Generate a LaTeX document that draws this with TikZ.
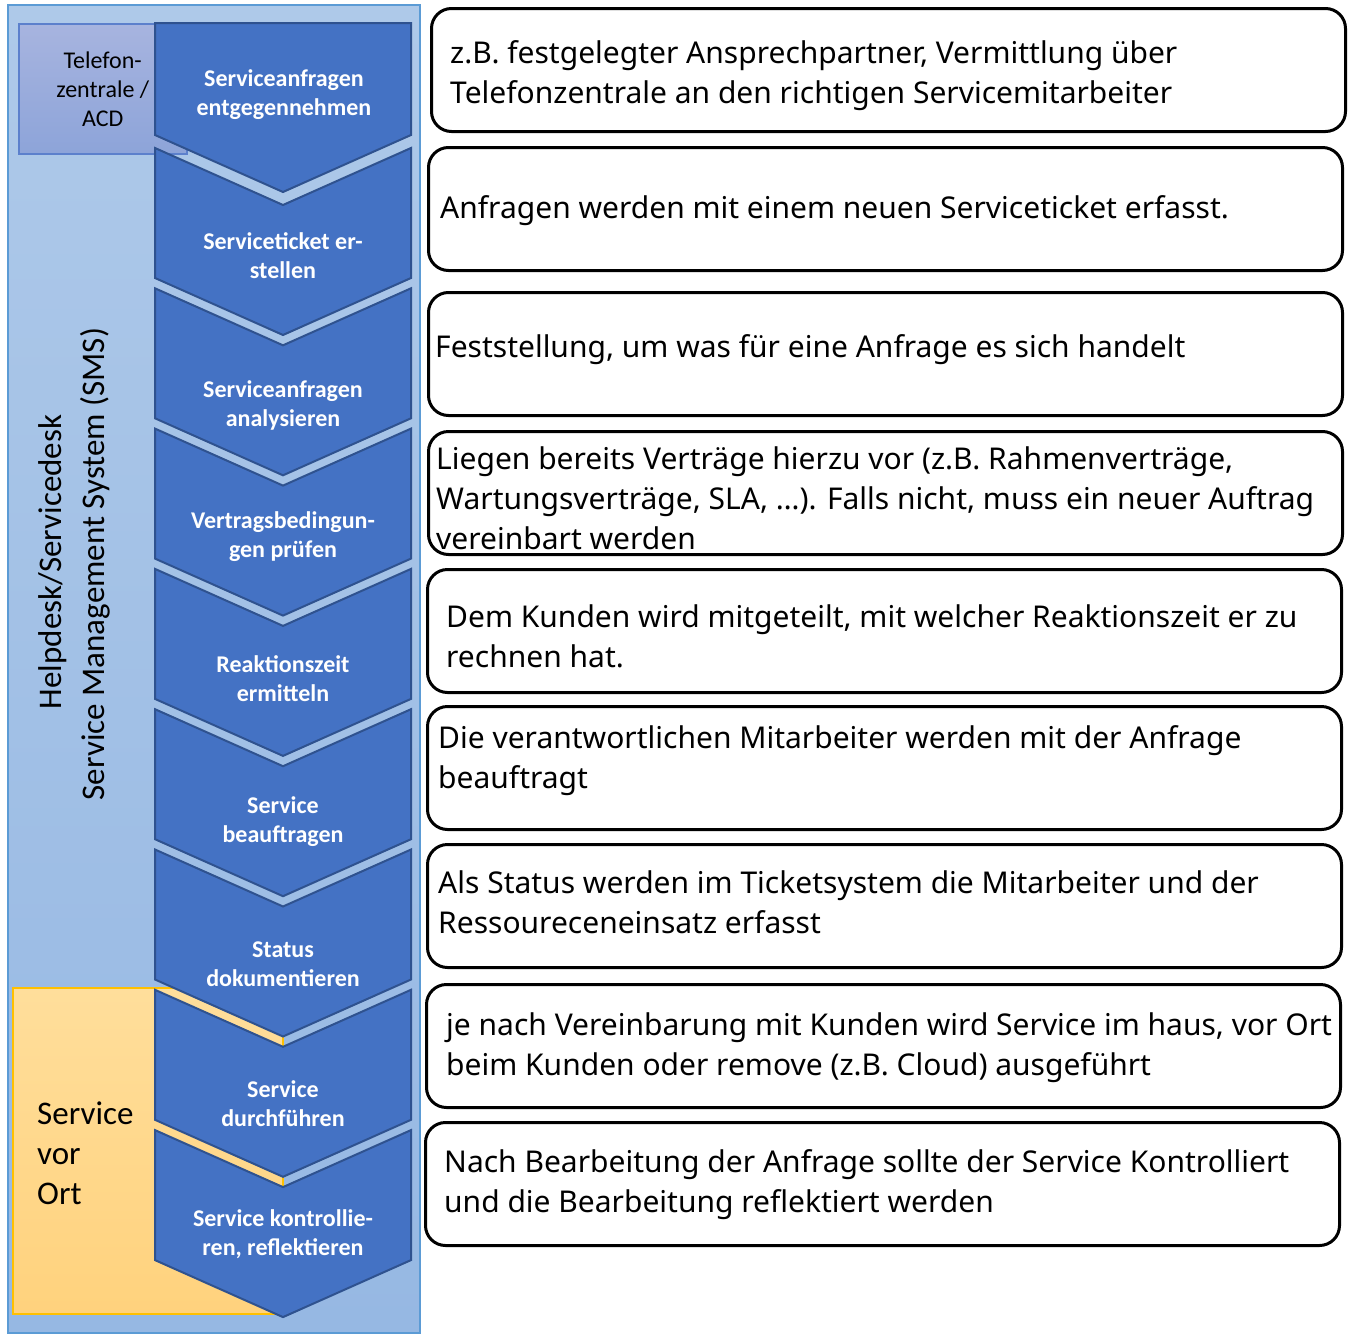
\documentclass[tikz,border=0pt]{standalone}
\usepackage{fontspec}
\setmainfont{Noto Sans}
\newfontfamily\calibri{Carlito}
\usetikzlibrary{positioning}

\definecolor{sdtop}{RGB}{174,201,233}
\definecolor{sdbottom}{RGB}{150,184,227}
\definecolor{sdline}{RGB}{91,155,213}
\definecolor{teltop}{RGB}{167,180,223}
\definecolor{telbottom}{RGB}{141,164,217}
\definecolor{telline}{RGB}{92,128,204}
\definecolor{orttop}{RGB}{255,222,155}
\definecolor{ortbottom}{RGB}{255,210,125}
\definecolor{ortline}{RGB}{255,192,0}
\definecolor{chevfill}{RGB}{68,114,196}
\definecolor{chevline}{RGB}{47,82,143}

\tikzset{
  stepshape/.style={fill=chevfill, draw=chevline, line width=2pt, line join=miter},
  steplabel/.style={text=white, align=center, font=\calibri\bfseries\fontsize{24}{29}\selectfont},
  sidelabel/.style={font=\calibri\fontsize{33}{40}\selectfont},
  infobox/.style={draw=black, line width=3pt, rounded corners=20pt, fill=white,
    minimum width=914, minimum height=123, anchor=north west, inner sep=0pt, outer sep=0pt},
  infotext/.style={anchor=west, align=left, inner sep=0pt, font=\fontsize{30}{40}\selectfont},
}

\begin{document}
\begin{tikzpicture}[x=1pt, y=-1pt]
\useasboundingbox (0,0) rectangle (1352,1341);

% Helpdesk background
\draw[sdline, line width=1.5pt, top color=sdtop, bottom color=sdbottom] (8,5) rectangle (420,1333);

% Telefonzentrale
\node[draw=telline, line width=1.5pt, top color=teltop, bottom color=telbottom,
  minimum width=168, minimum height=130, anchor=north west, align=center,
  font=\calibri\fontsize{24}{29}\selectfont] (tel) at (18,23) {Telefon-\\zentrale /\\ACD};

% Service vor Ort
\draw[ortline, line width=1.5pt, top color=orttop, bottom color=ortbottom] (13,988) rectangle (283,1314);
\node[sidelabel, anchor=west, align=left, inner sep=0pt] (ort) at (37,1153) {Service\\vor\\Ort};

% vertical titles
\node[sidelabel, rotate=90] (helpdesk) at (53,562) {Helpdesk/Servicedesk};
\node[sidelabel, rotate=90] (sms) at (95,564) {Service Management System (SMS)};

% process steps
\draw[stepshape] (155,23) -- (411,23) -- (411,135) -- (283,192) -- (155,135) -- cycle;
\node[steplabel] (step1) at (284,95) {Serviceanfragen\\entgegennehmen};
\foreach \i/\ly/\txt in {2/256/{Serviceticket er-\\stellen},
    3/405/{Serviceanfragen\\analysieren},
    4/537/{Vertragsbedingun-\\gen prüfen},
    5/679/{Reaktionszeit\\ermitteln},
    6/822/{Service\\beauftragen},
    7/964/{Status\\dokumentieren},
    8/1104/{Service\\durchführen},
    9/1234/{Service kontrollie-\\ren, reflektieren}} {
  \pgfmathsetmacro\cy{148+(\i-2)*140.3}
  \draw[stepshape] (155,\cy) -- (283,\cy+57) -- (411,\cy) -- (411,\cy+130)
    -- (283,\cy+187) -- (155,\cy+130) -- cycle;
  \node[steplabel] (step\i) at (283,\ly) {\txt};
}

% descriptions
\foreach \n/\bx/\by/\tx/\ty/\txt in {
    1/431.5/8.5/450/76/{z.B. festgelegter Ansprechpartner, Vermittlung über\\Telefonzentrale an den richtigen Servicemitarbeiter},
    2/428.5/147.5/440/211/{Anfragen werden mit einem neuen Serviceticket erfasst.},
    3/428.5/292.5/435/350/{Feststellung, um was für eine Anfrage es sich handelt},
    4/428.5/431.5/436/498/{Liegen bereits Verträge hierzu vor (z.B. Rahmenverträge,\\Wartungsverträge, SLA, …). Falls nicht, muss ein neuer Auftrag\\vereinbart werden},
    5/427.5/569.5/446/636/{Dem Kunden wird mitgeteilt, mit welcher Reaktionszeit er zu\\rechnen hat.},
    6/427.5/706.5/438/761/{Die verantwortlichen Mitarbeiter werden mit der Anfrage\\beauftragt},
    7/427.5/844.5/438/902/{Als Status werden im Ticketsystem die Mitarbeiter und der\\Ressoureceneinsatz erfasst},
    8/426.5/984.5/446/1048/{je nach Vereinbarung mit Kunden wird Service im haus, vor Ort\\beim Kunden oder remove (z.B. Cloud) ausgeführt},
    9/425.5/1122.5/444/1185/{Nach Bearbeitung der Anfrage sollte der Service Kontrolliert\\und die Bearbeitung reflektiert werden}} {
  \node[infobox] (box\n) at (\bx,\by) {};
  \node[infotext] (info\n) at (\tx,\ty) {\txt};
}

\end{tikzpicture}
\end{document}
